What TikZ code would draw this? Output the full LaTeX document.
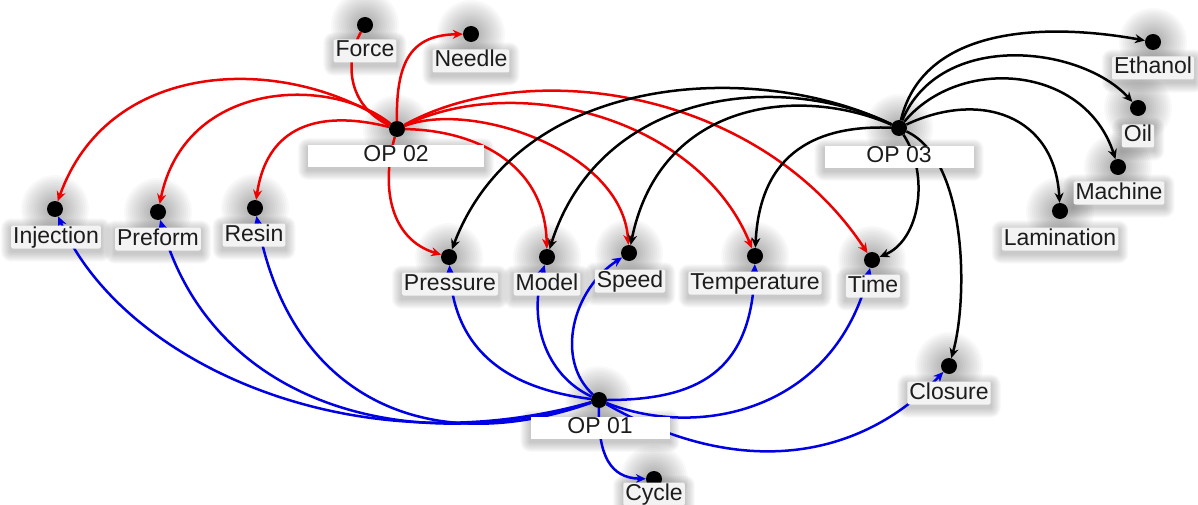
\documentclass[tikz,border=0pt]{standalone}
\usepackage{fontspec}
\setmainfont{Liberation Sans}
\usetikzlibrary{arrows.meta}
\pgfdeclarelayer{glow}
\pgfdeclarelayer{edges}
\pgfsetlayers{glow,edges,main}

\definecolor{lnred}{RGB}{236,0,0}
\definecolor{lnblue}{RGB}{0,0,228}
\definecolor{labfill}{RGB}{243,243,243}
\definecolor{labtext}{RGB}{28,28,28}

\tikzset{
  pt/.style={circle, fill=black, minimum size=16pt, inner sep=0pt},
  lab/.style={fill=labfill, rounded corners=2pt, text=labtext,
    font=\fontsize{23}{24}\selectfont, inner xsep=2pt, inner ysep=1pt,
    text height=16.5pt, text depth=4.5pt},
  opbox/.style={fill=white, text=labtext, font=\fontsize{23}{24}\selectfont,
    inner sep=0pt, text height=16.5pt, text depth=5pt},
  link/.style={line width=2.5pt, -{Stealth[length=10pt,width=9pt]}},
  plain/.style={line width=2.5pt},
  rlink/.style={link, draw=lnred},
  klink/.style={link, draw=black},
  blink/.style={link, draw=lnblue},
}

% soft halo under a dot
\newcommand\halo[1]{%
  \foreach \r in {8,10,...,34}{\fill[black,opacity=.024] (#1) circle[radius=\r pt];}}
% soft shadow under a label box
\newcommand\boxshade[1]{%
  \foreach \e in {1,2,...,10}{\fill[black,opacity=.022,rounded corners=\e pt]
    ([xshift=-\e pt,yshift=-\e pt-3pt]#1.south west) rectangle ([xshift=\e pt,yshift=\e pt-3pt]#1.north east);}}

\begin{document}
\begin{tikzpicture}[x=1pt,y=-1pt]
\useasboundingbox (0,0) rectangle (1198,505);

% ---- process hubs ----
\node[opbox, minimum width=176pt] (op2box) at (396,156) {OP 02};
\node[opbox, minimum width=149pt] (op3box) at (899,157) {OP 03};
\node[opbox, minimum width=139pt] (op1box) at (600,428) {OP 01};
\node[pt] (op2) at (397,129) {};
\node[pt] (op3) at (899,128) {};
\node[pt] (op1) at (599,400) {};

% ---- parameter dots ----
\node[pt] (force)  at (365,25)  {};
\node[pt] (needle) at (471,34)  {};
\node[pt] (eth)    at (1153,42) {};
\node[pt] (oil)    at (1138,108){};
\node[pt] (mach)   at (1118,167){};
\node[pt] (lam)    at (1060,211){};
\node[pt] (inj)    at (55,209)  {};
\node[pt] (pref)   at (158,212) {};
\node[pt] (resin)  at (255,208) {};
\node[pt] (pres)   at (449,257) {};
\node[pt] (model)  at (547,257) {};
\node[pt] (speed)  at (629,253) {};
\node[pt] (temp)   at (755,256) {};
\node[pt] (time)   at (872,260) {};
\node[pt] (closure)at (949,366) {};
\node[pt] (cycle)  at (654,479) {};

% ---- labels ----
\node[lab] (Lforce)  at (365,51)  {Force};
\node[lab] (Lneedle) at (471,61)  {Needle};
\node[lab] (Leth)    at (1153,68) {Ethanol};
\node[lab] (Loil)    at (1138,136){Oil};
\node[lab] (Lmach)   at (1119,193){Machine};
\node[lab] (Llam)    at (1060,239){Lamination};
\node[lab] (Linj)    at (56,237)  {Injection};
\node[lab] (Lpref)   at (158,239) {Preform};
\node[lab] (Lresin)  at (254,235) {Resin};
\node[lab] (Lpres)   at (450,284) {Pressure};
\node[lab] (Lmodel)  at (547,284) {Model};
\node[lab] (Lspeed)  at (630,281) {Speed};
\node[lab] (Ltemp)   at (755,283) {Temperature};
\node[lab] (Ltime)   at (873,286) {Time};
\node[lab] (Lclosure)at (949,393) {Closure};
\node[lab] (Lcycle)  at (654,494) {Cycle};

% ---- halos and shadows ----
\begin{pgfonlayer}{glow}
  \foreach \n in {op1,op2,op3,force,needle,eth,oil,mach,lam,inj,pref,resin,pres,model,speed,temp,time,closure,cycle}{\halo{\n}}
  \foreach \n in {op1box,op2box,op3box,Lforce,Lneedle,Leth,Loil,Lmach,Llam,Linj,Lpref,Lresin,Lpres,Lmodel,Lspeed,Ltemp,Ltime,Lclosure,Lcycle}{\boxshade{\n}}
\end{pgfonlayer}

\begin{pgfonlayer}{edges}
% OP 02 (red)
\draw[plain, lnred] (op2) .. controls (346,105) and (345,60) .. (force);
\draw[rlink] (op2) .. controls (396,60) and (412,35) .. (needle);
\draw[rlink] (op2) .. controls (290,55) and (110,55) .. (inj);
\draw[rlink] (op2) .. controls (330,75) and (185,80) .. (pref);
\draw[rlink] (op2) .. controls (330,112) and (268,118) .. (resin);
\draw[rlink] (op2) .. controls (380,190) and (392,240) .. (pres);
\draw[rlink] (op2) .. controls (470,130) and (545,160) .. (model);
\draw[rlink] (op2) .. controls (470,100) and (622,150) .. (speed);
\draw[rlink] (op2) .. controls (520,70) and (700,120) .. (temp);
\draw[rlink] (op2) .. controls (530,55) and (760,90) .. (time);

% OP 03 (black)
\draw[klink] (op3) .. controls (760,60) and (520,70) .. (pres);
\draw[klink] (op3) .. controls (780,70) and (600,90) .. (model);
\draw[klink] (op3) .. controls (800,85) and (660,100) .. (speed);
\draw[klink] (op3) .. controls (820,125) and (760,150) .. (temp);
\draw[klink] (op3) .. controls (930,175) and (920,240) .. (time);
\draw[klink] (op3) .. controls (968,160) and (968,300) .. (closure);
\draw[klink] (op3) .. controls (980,90) and (1055,115) .. (lam);
\draw[klink] (op3) .. controls (960,55) and (1085,65) .. (mach);
\draw[klink] (op3) .. controls (940,30) and (1080,45) .. (oil);
\draw[klink] (op3) .. controls (925,20) and (1060,25) .. (eth);

% OP 01 (blue)
\draw[blink] (op1) .. controls (350,470) and (120,360) .. (inj);
\draw[blink] (op1) .. controls (400,460) and (210,400) .. (pref);
\draw[blink] (op1) .. controls (430,460) and (290,400) .. (resin);
\draw[blink] (op1) .. controls (520,390) and (455,360) .. (pres);
\draw[blink] (op1) .. controls (545,375) and (528,320) .. (model);
\draw[blink] (op1) .. controls (555,360) and (572,290) .. (speed);
\draw[blink] (op1) .. controls (700,400) and (752,370) .. (temp);
\draw[blink] (op1) .. controls (700,440) and (835,410) .. (time);
\draw[blink] (op1) .. controls (740,480) and (860,460) .. (closure);
\draw[blink] (op1) .. controls (598,455) and (610,478) .. (cycle);
\end{pgfonlayer}
\end{tikzpicture}
\end{document}
